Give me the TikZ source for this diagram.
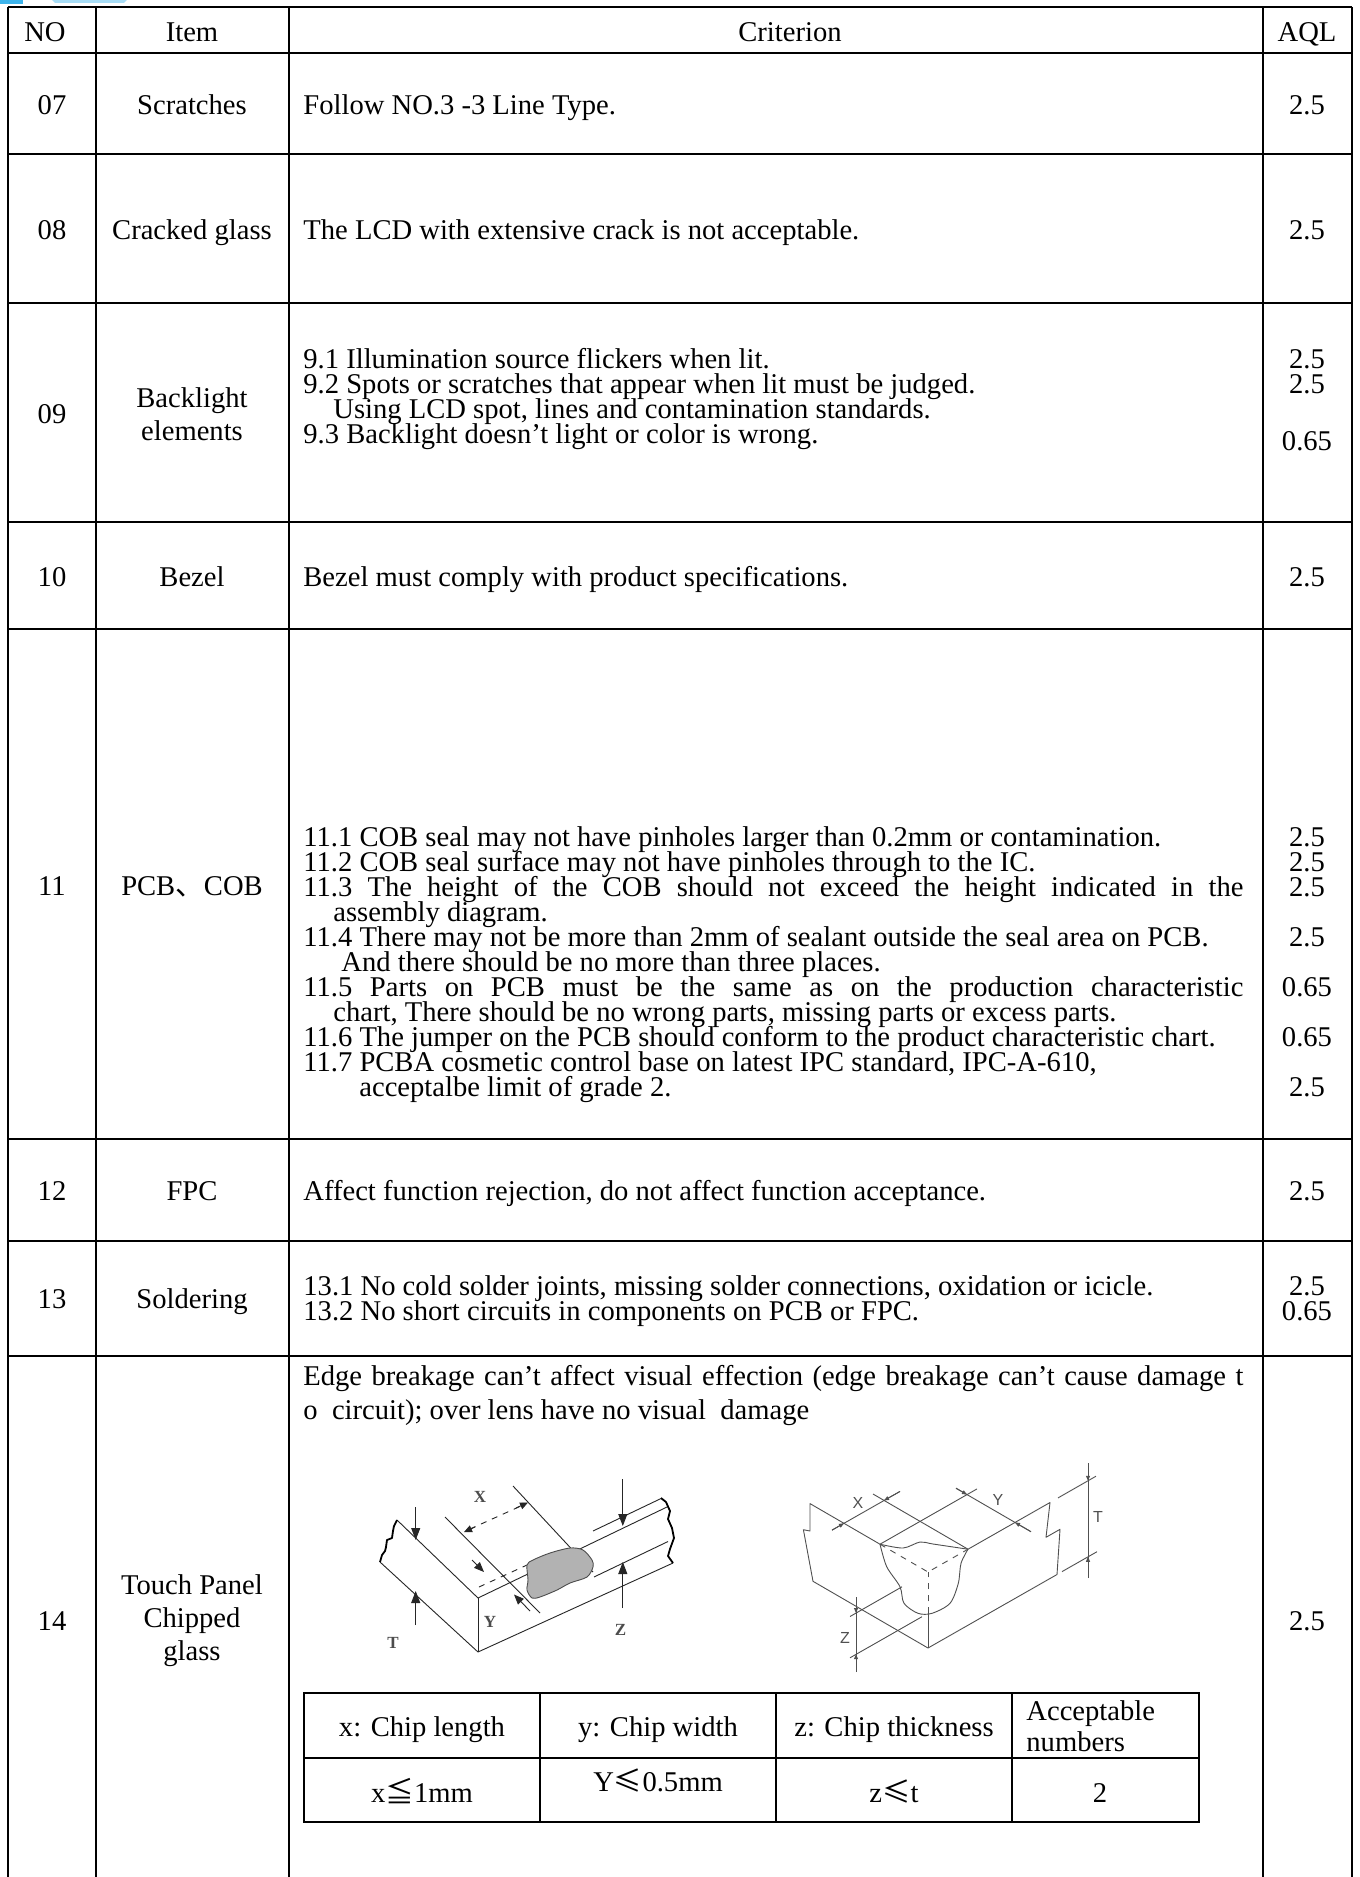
\documentclass[tikz,border=0pt]{standalone}
\usepackage{fontspec}
\setmainfont{Liberation Serif}
\setsansfont{Liberation Sans}
\newfontfamily\cjk{Noto Sans CJK SC}
\usetikzlibrary{arrows.meta}
\newcommand\fs{\fontsize{14.3pt}{16.5pt}\selectfont}
\newcommand\tight[1]{\fontsize{14.3pt}{#1}\selectfont\lineskiplimit=-100pt\lineskip=0pt}
\newcommand\jl[1]{\makebox[470pt][s]{#1}}
\newcommand\ind[1]{\hspace*{#1}}
\definecolor{logoA}{HTML}{3DB4EC}
\definecolor{logoB}{HTML}{A8DDF6}
\definecolor{figgray}{HTML}{505050}
\begin{document}
\begin{tikzpicture}[x=0.5pt,y=-0.5pt,
  hl/.style={line width=1.1pt},
  vl/.style={line width=0.8pt},
  tx/.style={font=\fs, inner sep=0pt, anchor=base},
  tl/.style={tx, anchor=base west},
  mc/.style={font=\fs, inner sep=0pt, align=center, anchor=center},
  fig/.style={line width=0.45pt, line join=round, draw=black!85},
  rfig/.style={line width=0.45pt, line join=round, draw=figgray},
  lab/.style={font=\fontsize{8.5pt}{9pt}\selectfont\bfseries, text=black!70, inner sep=0pt},
  rlab/.style={font=\sffamily\fontsize{8pt}{9pt}\selectfont, text=figgray, inner sep=0pt},
  bigtip/.style={-{Triangle[length=6pt,width=4.5pt]}},
  smalltip/.style={-{Triangle[length=2.5pt,width=2pt]}}
]
\useasboundingbox (0,0) rectangle (1359,1877);
\fill[white] (0,0) rectangle (1359,1877);

% logo fragment
\fill[logoA] (0,0) rectangle (23,4);
\fill[logoB] (52,0) -- (127,0) -- (124,3) -- (55,3) -- cycle;

% ---------- main grid ----------
\foreach \yy in {7,53,154,303,522,629,1139,1241,1356}
  \draw[hl] (8,\yy) -- (1352,\yy);
\foreach \xx in {8,96,289,1263,1352}
  \draw[vl] (\xx,7) -- (\xx,1877);

% ---------- header ----------
\node[tx] (hNO) at (45,42) {NO};
\node[tx] (hItem) at (192,42) {Item};
\node[tx] (hCrit) at (790,42) {Criterion};
\node[tx] (hAQL) at (1307,42) {AQL};

% ---------- row 07 ----------
\node[tx] (n07) at (52,115) {07};
\node[tx] (i07) at (192,115) {Scratches};
\node[tl] (c07) at (303,115) {Follow NO.3 -3 Line Type.};
\node[tx] (a07) at (1307,115) {2.5};

% ---------- row 08 ----------
\node[tx] (n08) at (52,240) {08};
\node[tx] (i08) at (192,240) {Cracked glass};
\node[tl] (c08) at (303,240) {The LCD with extensive crack is not acceptable.};
\node[tx] (a08) at (1307,240) {2.5};

% ---------- row 09 ----------
\node[tx] (n09) at (52,423) {09};
\node[mc] (i09) at (192,414) {Backlight\\elements};
\node[tl] (c09) at (303,369) {\parbox[t]{470pt}{\tight{12.5pt}\raggedright
9.1 Illumination source flickers when lit.\\
9.2 Spots or scratches that appear when lit must be judged.\\
\ind{15pt}Using LCD spot, lines and contamination standards.\\
9.3 Backlight doesn’t light or color is wrong.}};
\node[tx] (a09a) at (1307,369) {\parbox[t]{40pt}{\tight{12.5pt}\centering 2.5\\2.5}};
\node[tx] (a09c) at (1307,451) {0.65};

% ---------- row 10 ----------
\node[tx] (n10) at (52,586) {10};
\node[tx] (i10) at (192,586) {Bezel};
\node[tl] (c10) at (303,586) {Bezel must comply with product specifications.};
\node[tx] (a10) at (1307,586) {2.5};

% ---------- row 11 ----------
\node[tx] (n11) at (52,895) {11};
\node[tx] (i11) at (192,895) {PCB{\cjk 、}COB};
\node[tl] (c11) at (303,846) {\parbox[t]{470pt}{\tight{12.5pt}\raggedright
11.1 COB seal may not have pinholes larger than 0.2mm or contamination.\\
11.2 COB seal surface may not have pinholes through to the IC.\\
\jl{11.3 The height of the COB should not exceed the height indicated in the}\\
\ind{15pt}assembly diagram.\\
11.4 There may not be more than 2mm of sealant outside the seal area on PCB.\\
\ind{19pt}And there should be no more than three places.\\
\jl{11.5 Parts on PCB must be the same as on the production characteristic}\\
\ind{15pt}chart, There should be no wrong parts, missing parts or excess parts.\\
11.6 The jumper on the PCB should conform to the product characteristic chart.\\
11.7 PCBA cosmetic control base on latest IPC standard, IPC-A-610,\\
\ind{28pt}acceptalbe limit of grade 2.}};
\node[tx] (a11a) at (1307,846) {\parbox[t]{40pt}{\tight{12.5pt}\centering 2.5\\2.5\\2.5}};
\node[tx] (a11d) at (1307,946) {2.5};
\node[tx] (a11e) at (1307,996) {0.65};
\node[tx] (a11f) at (1307,1046) {0.65};
\node[tx] (a11g) at (1307,1096) {2.5};

% ---------- row 12 ----------
\node[tx] (n12) at (52,1200) {12};
\node[tx] (i12) at (192,1200) {FPC};
\node[tl] (c12) at (303,1200) {Affect function rejection, do not affect function acceptance.};
\node[tx] (a12) at (1307,1200) {2.5};

% ---------- row 13 ----------
\node[tx] (n13) at (52,1308) {13};
\node[tx] (i13) at (192,1308) {Soldering};
\node[tl] (c13) at (303,1295) {\parbox[t]{470pt}{\tight{12.7pt}\raggedright
13.1 No cold solder joints, missing solder connections, oxidation or icicle.\\
13.2 No short circuits in components on PCB or FPC.}};
\node[tx] (a13) at (1307,1295) {\parbox[t]{40pt}{\tight{12.7pt}\centering 2.5\\0.65}};

% ---------- row 14 ----------
\node[tx] (n14) at (52,1630) {14};
\node[mc] (i14) at (192,1621) {Touch Panel\\Chipped\\glass};
\node[tl] (c14) at (303,1385) {\parbox[t]{470pt}{\tight{17pt}\raggedright
\jl{Edge breakage can’t affect visual effection (edge breakage can’t cause damage t}\\
o\ \ circuit); over lens have no visual\ \ damage}};
\node[tx] (a14) at (1307,1630) {2.5};

% ---------- left figure ----------
\begin{scope}[fig]
\draw (478,1598) -- (397,1520);
\draw (478,1652) -- (380,1562);
\draw (478,1598) -- (478,1652);
\draw (478,1598) -- (668,1506.5);
\draw (478,1652) -- (673,1563);
\draw[line width=0.9pt,draw=black] (397,1520) -- (394,1526) -- (393,1531) -- (392,1538) -- (387,1540) -- (386,1547) -- (385,1551) -- (382,1555) -- (380,1562);
\draw[line width=0.9pt,draw=black] (661,1498) -- (666,1502) -- (670,1511) -- (668,1519) -- (672,1528) -- (674,1538) -- (670,1549) -- (668,1556) -- (673,1563);
\draw (594,1577) -- (668,1541.5);
\draw[dashed] (479,1587) -- (527,1565);
\draw (593,1531) -- (661,1498.5);
\draw (445,1517) -- (540,1613);
\draw (513,1486) -- (593,1572);
\draw[dashed] (470,1529) -- (522,1505.5);
\draw[-{Triangle[length=4pt,width=3.5pt]}] (475,1527) -- (464,1532);
\draw[-{Triangle[length=4pt,width=3.5pt]}] (516,1508) -- (528,1502.5);
\draw[bigtip] (415.7,1507) -- (415.7,1540);
\draw[bigtip] (415.7,1625) -- (415.7,1591);
\draw[bigtip] (622.8,1479) -- (622.8,1526);
\draw[bigtip] (622.8,1608) -- (622.8,1562);
\draw[-{Triangle[length=5pt,width=4pt]}] (472,1560) -- (484,1572);
\draw[-{Triangle[length=5pt,width=4pt]}] (530,1611) -- (514,1594.5);
\filldraw[fill=gray!60, draw=black!70] plot[smooth cycle] coordinates {(527,1565) (533,1560) (550,1553) (570,1548) (583,1550) (592,1560) (593,1567) (587,1577) (570,1583) (557,1590) (540,1597) (532,1598) (527,1590) (528,1580)};
\end{scope}
\node[lab] (lX) at (480,1497) {X};
\node[lab] (lY) at (490,1622) {Y};
\node[lab] (lT) at (393,1643) {T};
\node[lab] (lZ) at (620.5,1630) {Z};

% ---------- right figure ----------
\begin{scope}[rfig]
\draw (880,1544.2) -- (810,1503.6) -- (810,1531) -- (803.4,1529.7) -- (813,1581.3) -- (928,1648) -- (1057,1574.5) -- (1060,1529.3) -- (1046,1537.3) -- (1050,1502.5) -- (968,1549.2);
\draw (928,1648) -- (928,1613.3);
\draw[dashed] (928,1613.3) -- (928,1572);
\draw[dashed] (880,1544.2) -- (928,1572) -- (968,1549.2);
\draw plot[smooth] coordinates {(880,1544.2) (903,1548) (920,1542) (933,1544) (968,1549.2)};
\draw plot[smooth] coordinates {(880,1544.2) (886.7,1566.7) (900,1586.7) (904,1603.3) (918,1613.3) (932,1613.3) (950,1603.3) (958.3,1583.3) (961,1563.3) (968,1549.2)};
\draw (968,1549.2) -- (873,1494);
\draw (832,1530.1) -- (900,1491.4);
\draw[smalltip] (832,1530.1) -- (844,1523.3);
\draw[smalltip] (900,1491.4) -- (884,1500.5);
\draw (880,1544.2) -- (977,1488.9);
\draw (1031,1531.7) -- (956,1488.2);
\draw[smalltip] (1031,1531.7) -- (1015,1522.4);
\draw[smalltip] (956,1488.2) -- (967,1494.6);
\draw (1058,1497.9) -- (1096,1476.2);
\draw (1062,1571.6) -- (1097,1551.7);
\draw (1088,1463) -- (1088,1578);
\draw[smalltip] (1088,1463) -- (1088,1480.8);
\draw[smalltip] (1088,1578) -- (1088,1556.8);
\draw (902,1586.8) -- (850,1616.5);
\draw (922,1616.7) -- (850,1657.8);
\draw (856,1597) -- (856,1672);
\draw[smalltip] (856,1597) -- (856,1613);
\draw[smalltip] (856,1672) -- (856,1654.2);
\end{scope}
\node[rlab] (rX) at (858,1503) {X};
\node[rlab] (rY) at (998,1500) {Y};
\node[rlab] (rT) at (1098,1517) {T};
\node[rlab] (rZ) at (845,1638) {Z};

% ---------- inner table ----------
\draw[line width=1pt] (304,1693) rectangle (1199,1822);
\draw[line width=1pt] (304,1758) -- (1199,1758);
\foreach \xx in {540,776,1012}
  \draw[line width=0.8pt] (\xx,1693) -- (\xx,1822);
\node[tx] (t11) at (422,1736) {x: Chip length};
\node[tx] (t12) at (658,1736) {y: Chip width};
\node[tx] (t13) at (894,1736) {z: Chip thickness};
\node[tl] (t14) at (1026,1720) {\parbox[t]{90pt}{\tight{15.5pt}\raggedright Acceptable\\numbers}};
\node[tx] (t21) at (422,1802) {x{\cjk ≦}1mm};
\node[tx] (t22) at (658,1791) {Y{\cjk ≤}0.5mm};
\node[tx] (t23) at (894,1802) {z{\cjk ≤}t};
\node[tx] (t24) at (1100,1802) {2};
\end{tikzpicture}
\end{document}
